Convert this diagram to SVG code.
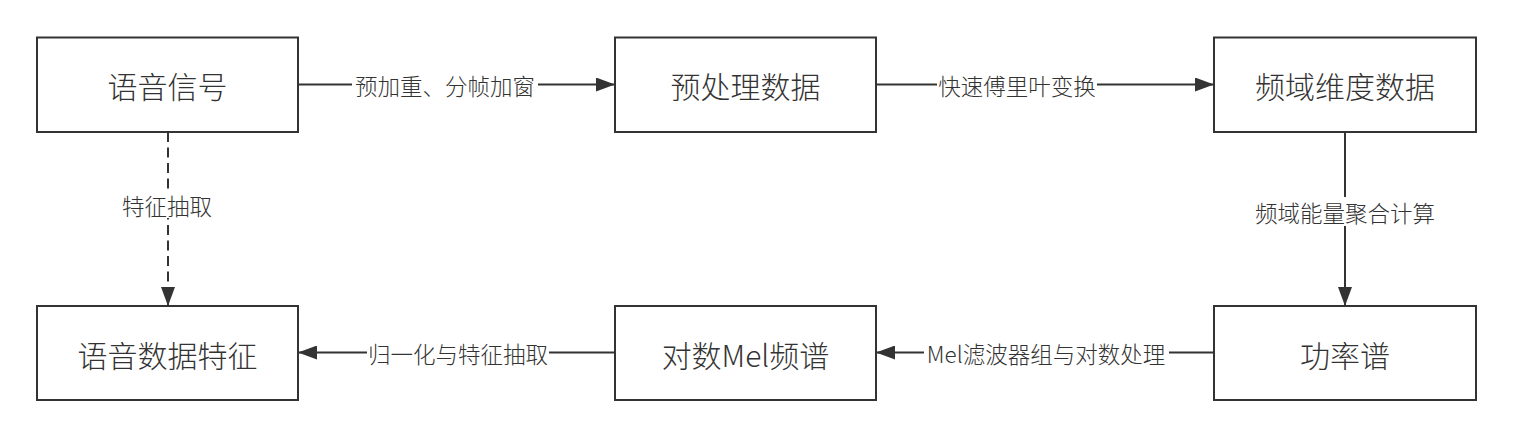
<svg xmlns="http://www.w3.org/2000/svg" width="1513" height="438" viewBox="0 0 1513 438">
<style>
.box{fill:#ffffff;stroke:#333333;stroke-width:2}
.nt{font-family:"Noto Sans CJK SC","Microsoft YaHei",sans-serif;font-size:30px;font-weight:300;fill:#333333;text-anchor:middle;dominant-baseline:central}
.lt{font-family:"Noto Sans CJK SC","Microsoft YaHei",sans-serif;font-size:22.5px;font-weight:300;fill:#333333;text-anchor:middle;dominant-baseline:central}
.ln{fill:none;stroke:#333333;stroke-width:2}
.dash{stroke-dasharray:10 5.5}
.bg{fill:#ffffff}
</style>
<defs>
<marker id="arr" markerUnits="userSpaceOnUse" markerWidth="19" markerHeight="14" refX="19" refY="7" orient="auto">
<path d="M0,0 L19,7 L0,14 Z" fill="#333333"/>
</marker>
</defs>
<rect width="1513" height="438" fill="#ffffff"/>
<g id="connectors">
<line class="ln" x1="298" y1="84.5" x2="615" y2="84.5" marker-end="url(#arr)"/>
<rect class="bg" x="352" y="72" width="186" height="26"/>
<text class="lt" x="445" y="85">预加重、分帧加窗</text>
<line class="ln" x1="876" y1="84.5" x2="1214" y2="84.5" marker-end="url(#arr)"/>
<rect class="bg" x="937" y="72" width="160" height="26"/>
<text class="lt" x="1017" y="85">快速傅里叶变换</text>
<line class="ln" x1="1345" y1="132" x2="1345" y2="306" marker-end="url(#arr)"/>
<rect class="bg" x="1253" y="197" width="184" height="29"/>
<text class="lt" x="1345" y="212">频域能量聚合计算</text>
<line class="ln dash" x1="168" y1="132" x2="168" y2="306" marker-end="url(#arr)"/>
<rect class="bg" x="121" y="192" width="93" height="26"/>
<text class="lt" x="167" y="205">特征抽取</text>
<line class="ln" x1="1214" y1="352.5" x2="876" y2="352.5" marker-end="url(#arr)"/>
<rect class="bg" x="924" y="340" width="245" height="26"/>
<text class="lt" x="1046" y="353">Mel滤波器组与对数处理</text>
<line class="ln" x1="615" y1="352.5" x2="298" y2="352.5" marker-end="url(#arr)"/>
<rect class="bg" x="367" y="340" width="182" height="26"/>
<text class="lt" x="458" y="353">归一化与特征抽取</text>
</g>
<g id="n1"><rect class="box" x="37" y="37.5" width="261" height="94.5"/><text class="nt" x="167.5" y="85">语音信号</text></g>
<g id="n2"><rect class="box" x="615" y="37.5" width="261" height="94.5"/><text class="nt" x="745.5" y="85">预处理数据</text></g>
<g id="n3"><rect class="box" x="1214" y="37.5" width="262" height="94.5"/><text class="nt" x="1345" y="85">频域维度数据</text></g>
<g id="n4"><rect class="box" x="37" y="306" width="261" height="94"/><text class="nt" x="167.5" y="353.5">语音数据特征</text></g>
<g id="n5"><rect class="box" x="615" y="306" width="261" height="94"/><text class="nt" x="745.5" y="353.5">对数Mel频谱</text></g>
<g id="n6"><rect class="box" x="1214" y="306" width="262" height="94"/><text class="nt" x="1345" y="353.5">功率谱</text></g>
</svg>
